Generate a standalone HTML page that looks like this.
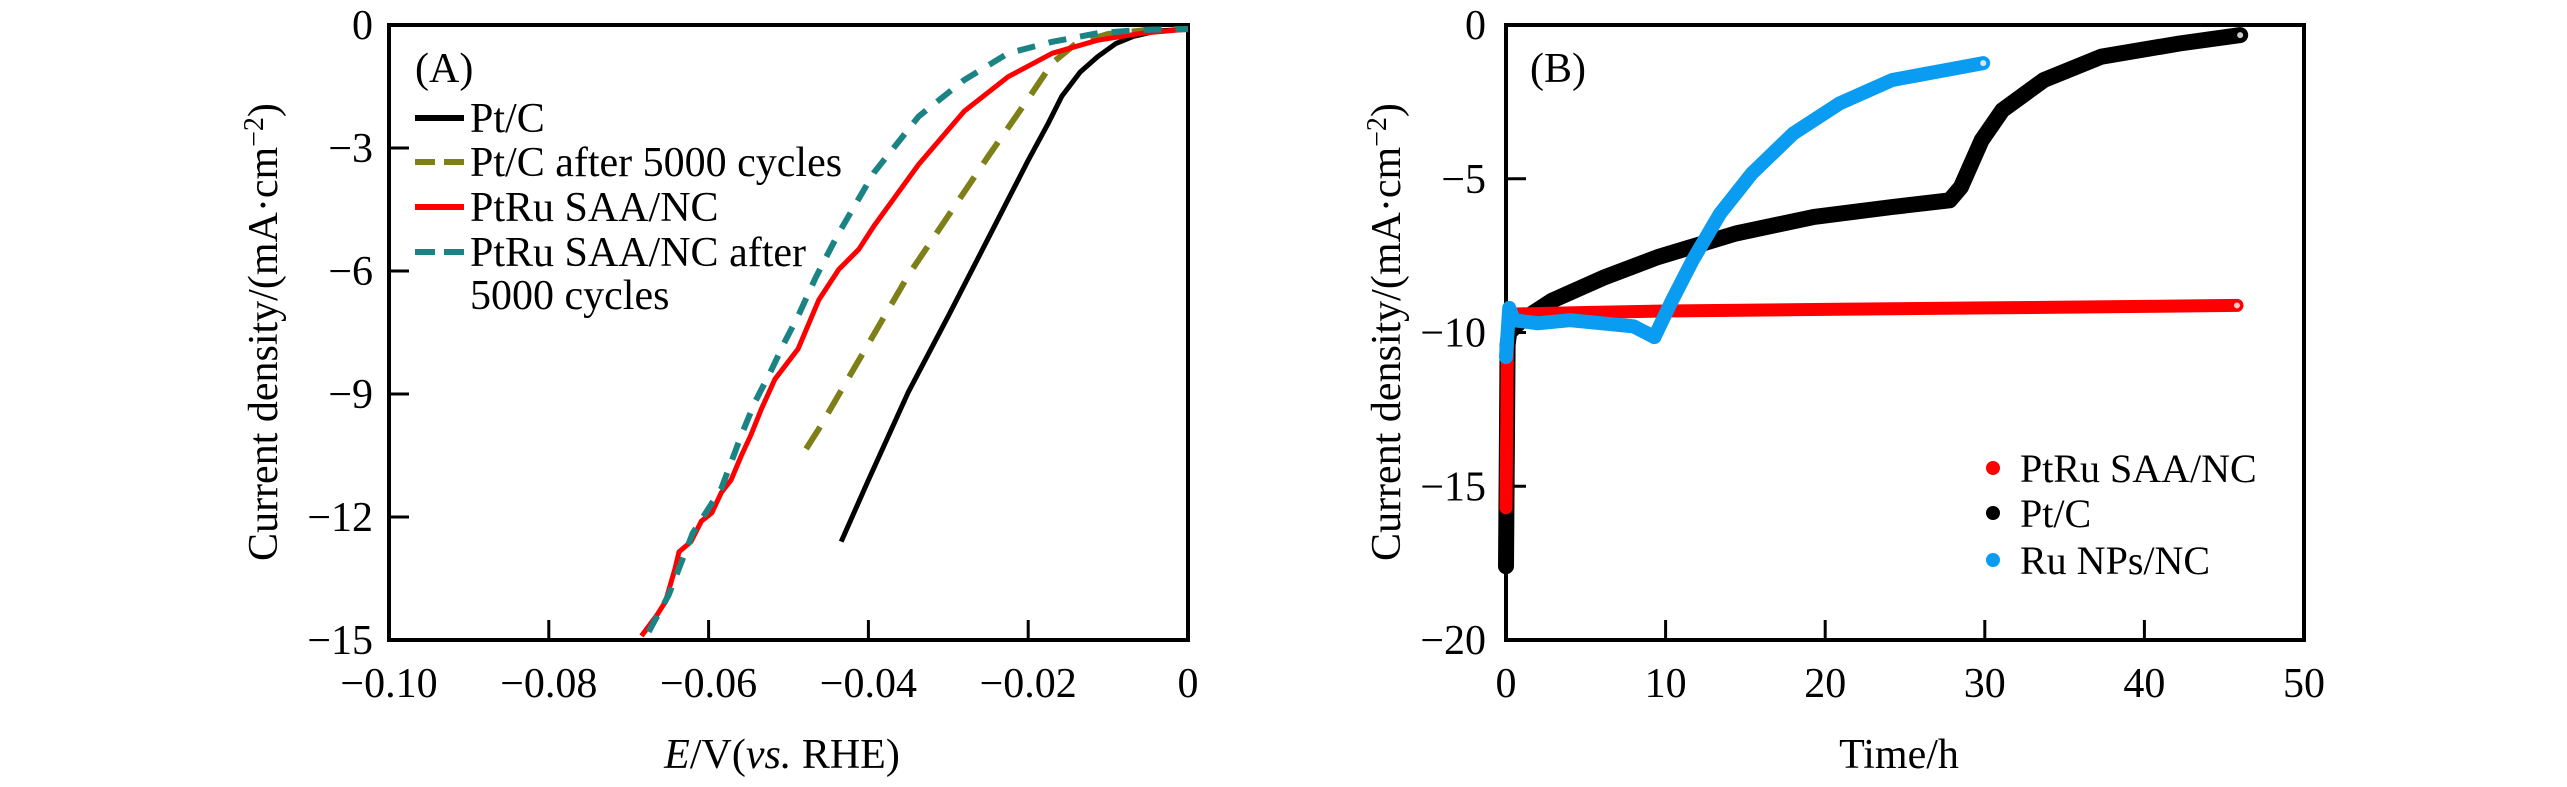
<!DOCTYPE html>
<html><head><meta charset="utf-8"><style>
html,body{margin:0;padding:0;background:#fff;}
svg{display:block;}
svg text{font-family:"Liberation Serif","Times New Roman",serif;}
</style></head><body>
<svg id="fig" width="2567" height="787" viewBox="0 0 2567 787" xmlns="http://www.w3.org/2000/svg" font-family="Liberation Serif, Times New Roman, serif">
<g id="panelA"></g>
<g id="panelB"></g>
</svg>
<script>
// ---------- Panel A data ----------
const aXTicks = [-0.10, -0.08, -0.06, -0.04, -0.02, 0];
const aXTickLabels = ["\u22120.10", "\u22120.08", "\u22120.06", "\u22120.04", "\u22120.02", "0"];
const aYTicks = [0, -3, -6, -9, -12, -15];
const aYTickLabels = ["0", "\u22123", "\u22126", "\u22129", "\u221212", "\u221215"];
const ptcE = [-0.0434,-0.040,-0.035,-0.030,-0.025,-0.020,-0.0175,-0.0158,-0.0135,-0.0113,-0.009,-0.0069,-0.004,0];
const ptcJ = [-12.6,-11.1,-8.95,-7.1,-5.2,-3.3,-2.4,-1.74,-1.15,-0.77,-0.45,-0.28,-0.15,-0.1];
const ptcAgedE = [-0.0478,-0.0462,-0.035,-0.025,-0.020,-0.017,-0.014,-0.010,-0.005,0];
const ptcAgedJ = [-10.34,-9.85,-6.1,-3.2,-1.8,-0.93,-0.45,-0.22,-0.12,-0.1];
const saaE = [-0.0684,-0.0665,-0.0654,-0.0642,-0.0637,-0.0622,-0.0609,-0.0596,-0.0584,-0.0572,-0.0559,-0.0547,-0.0534,-0.0517,-0.0488,-0.0462,-0.0437,-0.0412,-0.0393,-0.0337,-0.028,-0.0225,-0.017,-0.0113,-0.0057,0];
const saaJ = [-14.9,-14.4,-14.06,-13.26,-12.85,-12.6,-12.1,-11.9,-11.4,-11.1,-10.5,-10.0,-9.37,-8.64,-7.9,-6.7,-5.96,-5.47,-4.9,-3.4,-2.1,-1.26,-0.69,-0.37,-0.2,-0.1];
const saaAgedE = [-0.0675,-0.0650,-0.0620,-0.0584,-0.0559,-0.0542,-0.0521,-0.0504,-0.0488,-0.0467,-0.0454,-0.0437,-0.0393,-0.0337,-0.028,-0.0225,-0.017,-0.0113,-0.006,0];
const saaAgedJ = [-14.8,-13.9,-12.4,-11.3,-10.0,-9.2,-8.4,-7.7,-7.1,-6.2,-5.7,-5.07,-3.6,-2.23,-1.34,-0.69,-0.41,-0.2,-0.12,-0.1];
const aLegendLabels = ["Pt/C", "Pt/C after 5000 cycles", "PtRu SAA/NC", "PtRu SAA/NC after"];

// ---------- Panel B data ----------
const bXTicks = [0, 10, 20, 30, 40, 50];
const bXTickLabels = ["0", "10", "20", "30", "40", "50"];
const bYTicks = [0, -5, -10, -15, -20];
const bYTickLabels = ["0", "\u22125", "\u221210", "\u221215", "\u221220"];
const ptcT = [0,0.1,0.2,1,2.9,6.2,9.5,14.4,19.3,24.2,27.8,28.5,29.8,31.1,33.7,37.3,42.2,46];
const ptcI = [-17.6,-10.4,-10.0,-9.6,-8.96,-8.2,-7.55,-6.78,-6.24,-5.92,-5.7,-5.27,-3.75,-2.77,-1.79,-1.03,-0.6,-0.33];
const saaT = [0,0.1,0.3,5,10,20,30,40,45.8];
const saaI = [-15.7,-9.8,-9.4,-9.35,-9.3,-9.25,-9.2,-9.15,-9.12];
const ruT = [0,0.2,0.5,2,4,6,8,9.3,10.4,11.7,13.4,15.4,18,20.9,24.2,27.5,29.9];
const ruI = [-10.8,-9.2,-9.6,-9.7,-9.6,-9.7,-9.8,-10.15,-8.96,-7.65,-6.14,-4.83,-3.53,-2.55,-1.79,-1.47,-1.24];
const bLegendLabels = ["PtRu SAA/NC", "Pt/C", "Ru NPs/NC"];

const NS = "http://www.w3.org/2000/svg";
const FF = "Liberation Serif, Times New Roman, serif";
function mk(tag, attrs, parent){ const e=document.createElementNS(NS,tag); for(const k in attrs) e.setAttribute(k,attrs[k]); if(tag==="text") e.setAttribute("font-family",FF); parent.appendChild(e); return e; }

const A = {x0:389, x1:1188, y0:25, y1:640, xmin:-0.1, xmax:0, ymin:-15, ymax:0};
const B = {x0:1506, x1:2304, y0:25, y1:640, xmin:0, xmax:50, ymin:-20, ymax:0};
function sx(P,v){ return P.x0 + (v-P.xmin)/(P.xmax-P.xmin)*(P.x1-P.x0); }
function sy(P,v){ return P.y1 - (v-P.ymin)/(P.ymax-P.ymin)*(P.y1-P.y0); }
function pathD(P,xs,ys){ return xs.map((x,i)=>(i?"L":"M")+sx(P,x).toFixed(1)+" "+sy(P,ys[i]).toFixed(1)).join(" "); }

function drawAxes(g,P,xt,xl,yt,yl,labelRight,name){
  const frame = mk("rect",{x:P.x0,y:P.y0,width:P.x1-P.x0,height:P.y1-P.y0,fill:"none",stroke:"#000","stroke-width":4},g);
  
  
  xt.forEach((v,i)=>{
    const x=sx(P,v);
    if(i>0 && i<xt.length-1){
      const t=mk("line",{x1:x,x2:x,y1:P.y1,y2:P.y1-20,stroke:"#000","stroke-width":3},g);
      
      
    }
    const l=mk("text",{x:x,y:697,"text-anchor":"middle","font-size":42},g);
    l.textContent=xl[i];
    
    
  });
  yt.forEach((v,i)=>{
    const y=sy(P,v);
    if(i>0 && i<yt.length-1){
      const t=mk("line",{x1:P.x0,x2:P.x0+20,y1:y,y2:y,stroke:"#000","stroke-width":3},g);
      
      
    }
    const l=mk("text",{x:labelRight,y:y+14,"text-anchor":"end","font-size":42},g);
    l.textContent=yl[i];
    
    
  });
}

// ---------- Panel A ----------
const gA=document.getElementById("panelA");
drawAxes(gA,A,aXTicks,aXTickLabels,aYTicks,aYTickLabels,373,"panel-a");
const sA=[
  {xs:ptcE,ys:ptcJ,c:"#000",d:null,n:"line-pt-c"},
  {xs:ptcAgedE,ys:ptcAgedJ,c:"#7f7f17",d:"26 16",n:"line-pt-c-after-5000"},
  {xs:saaE,ys:saaJ,c:"#ff0000",d:null,n:"line-ptru-saa"},
  {xs:saaAgedE,ys:saaAgedJ,c:"#1b8383",d:"18 14",n:"line-ptru-saa-after-5000"}
];
sA.forEach(s=>{
  const p=mk("path",{d:pathD(A,s.xs,s.ys),fill:"none",stroke:s.c,"stroke-width":s.d?6:5,"stroke-linejoin":"round"},gA);
  if(s.d) p.setAttribute("stroke-dasharray",s.d);
  
  
});
const lblA=mk("text",{x:415,y:82,"font-size":42},gA); lblA.textContent="(A)";


const legRowsY=[118,162,207,252];
aLegendLabels.forEach((t,i)=>{
  const s=sA[i];
  const ln=mk("line",{x1:415,x2:464,y1:legRowsY[i],y2:legRowsY[i],stroke:s.c,"stroke-width":6},gA);
  if(s.d) ln.setAttribute("stroke-dasharray","20 9");
  
  
  const tx=mk("text",{x:470,y:legRowsY[i]+14,"font-size":42},gA); tx.textContent=t;
  
  
});
const tx5=mk("text",{x:470,y:309,"font-size":42},gA); tx5.textContent="5000 cycles";


const xtA=mk("text",{x:782,y:768,"text-anchor":"middle","font-size":42},gA);
xtA.innerHTML='<tspan font-style="italic">E</tspan>/V(<tspan font-style="italic">vs.</tspan> RHE)';


const ytA=mk("text",{x:0,y:0,"text-anchor":"middle","font-size":42,transform:"translate(277,332) rotate(-90)"},gA);
ytA.innerHTML='Current density/(mA\u00b7cm<tspan dy="-14" font-size="28">\u22122</tspan><tspan dy="14">)</tspan>';



// ---------- Panel B ----------
const gB=document.getElementById("panelB");
drawAxes(gB,B,bXTicks,bXTickLabels,bYTicks,bYTickLabels,1486,"panel-b");
const sB=[
  {xs:ptcT,ys:ptcI,c:"#000",w:16,n:"series-pt-c"},
  {xs:saaT,ys:saaI,c:"#ff0000",w:13,n:"series-ptru-saa"},
  {xs:ruT,ys:ruI,c:"#0a9cf0",w:14,n:"series-ru-nps"}
];
sB.forEach(s=>{
  const p=mk("path",{d:pathD(B,s.xs,s.ys),fill:"none",stroke:s.c,"stroke-width":s.w,"stroke-linejoin":"round","stroke-linecap":"round"},gB);
  
  
  const n=s.xs.length-1;
  const c=mk("circle",{cx:sx(B,s.xs[n]),cy:sy(B,s.ys[n]),r:3,fill:"#fff",opacity:0.8},gB);
  
  
});
const lblB=mk("text",{x:1530,y:82,"font-size":42},gB); lblB.textContent="(B)";


const legColB=["#ff0000","#000","#0a9cf0"];
const legYB=[468,513,560];
bLegendLabels.forEach((t,i)=>{
  const d=mk("circle",{cx:1993,cy:legYB[i],r:7,fill:legColB[i]},gB);
  
  
  const tx=mk("text",{x:2020,y:legYB[i]+14,"font-size":40},gB); tx.textContent=t;
  
  
});
const xtB=mk("text",{x:1899,y:768,"text-anchor":"middle","font-size":42},gB); xtB.textContent="Time/h";


const ytB=mk("text",{x:0,y:0,"text-anchor":"middle","font-size":42,transform:"translate(1400,332) rotate(-90)"},gB);
ytB.innerHTML='Current density/(mA\u00b7cm<tspan dy="-14" font-size="28">\u22122</tspan><tspan dy="14">)</tspan>';


</script>
</body></html>
